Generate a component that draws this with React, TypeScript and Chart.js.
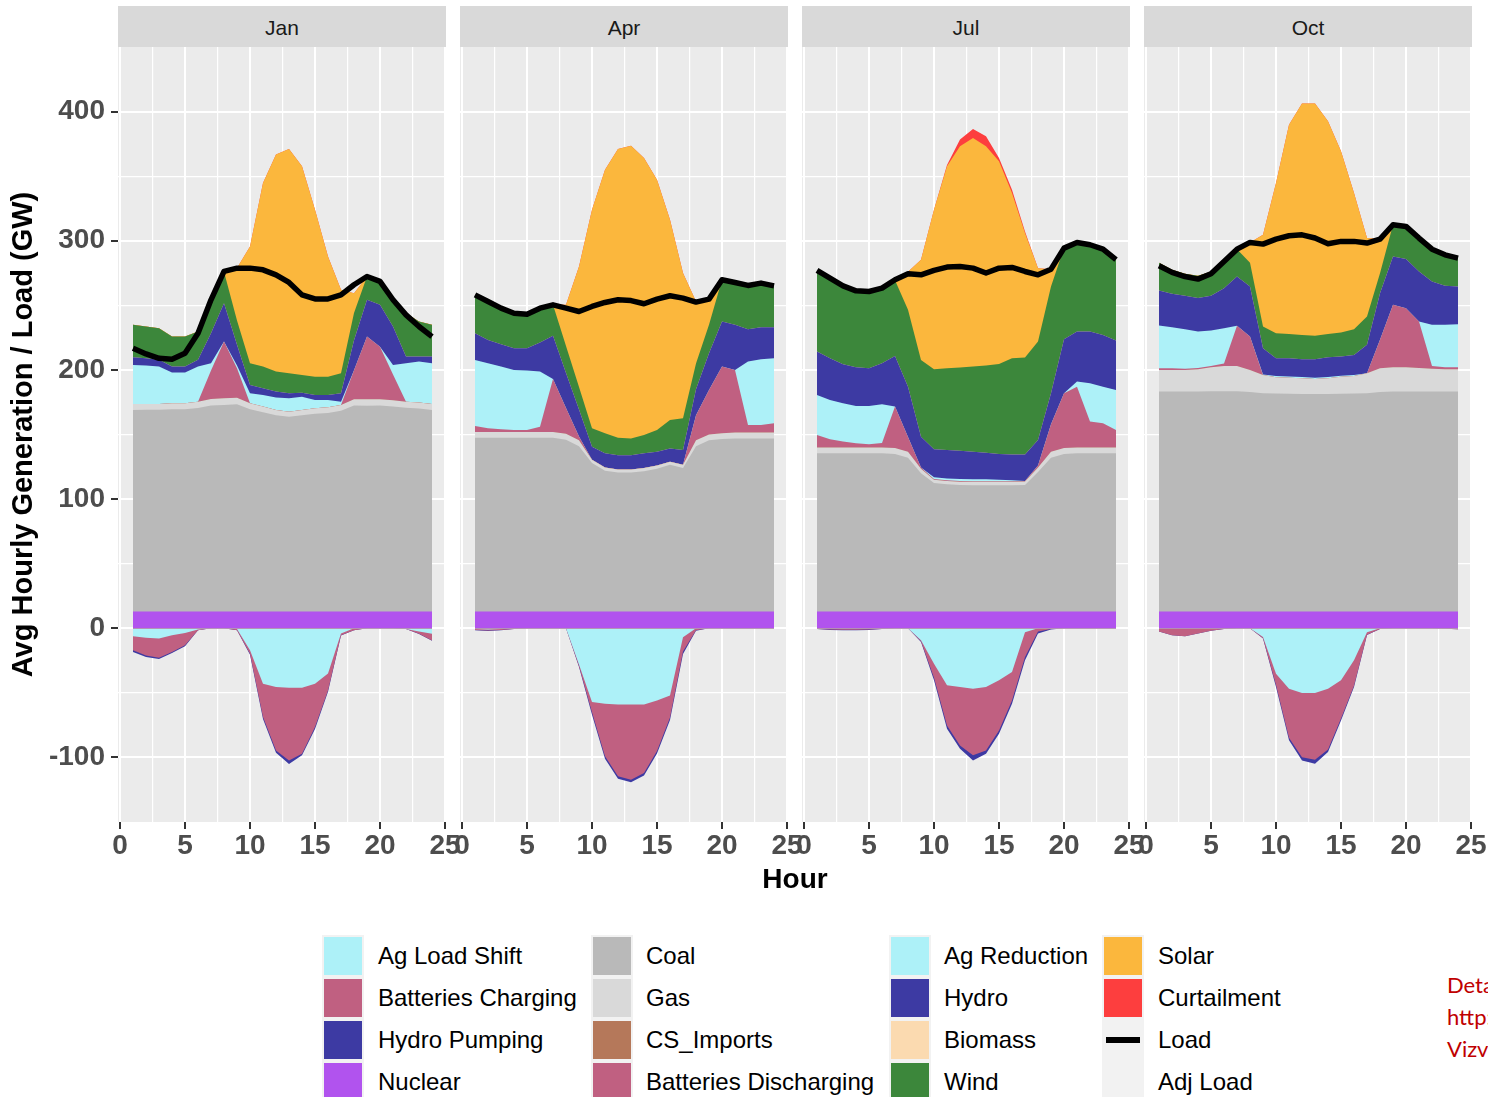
import React, { useEffect, useRef } from 'react';
import { Chart, registerables } from 'chart.js';

Chart.register(...registerables);

const FONT = '"Liberation Sans", Arial, Helvetica, sans-serif';

// ---------------------------------------------------------------------------
// Data: average hourly generation / load (GW) by month
// ---------------------------------------------------------------------------
const MONTHS = ['Jan', 'Apr', 'Jul', 'Oct'];
const HOURS = [1, 2, 3, 4, 5, 6, 7, 8, 9, 10, 11, 12, 13, 14, 15, 16, 17, 18, 19, 20, 21, 22, 23, 24];
const X_TICKS = [0, 2.5, 5, 7.5, 10, 12.5, 15, 17.5, 20, 22.5, 25];
const Y_TICKS = [-100, -50, 0, 50, 100, 150, 200, 250, 300, 350, 400];

const NUCLEAR: Record<string, number[]> = {
  Jan: [13, 13, 13, 13, 13, 13, 13, 13, 13, 13, 13, 13, 13, 13, 13, 13, 13, 13, 13, 13, 13, 13, 13, 13],
  Apr: [13, 13, 13, 13, 13, 13, 13, 13, 13, 13, 13, 13, 13, 13, 13, 13, 13, 13, 13, 13, 13, 13, 13, 13],
  Jul: [13, 13, 13, 13, 13, 13, 13, 13, 13, 13, 13, 13, 13, 13, 13, 13, 13, 13, 13, 13, 13, 13, 13, 13],
  Oct: [13, 13, 13, 13, 13, 13, 13, 13, 13, 13, 13, 13, 13, 13, 13, 13, 13, 13, 13, 13, 13, 13, 13, 13],
};

const COAL: Record<string, number[]> = {
  Jan: [156.0, 156.1, 156.1, 156.6, 156.5, 157.6, 159.5, 159.9, 160.5, 156.6, 154.3, 151.9, 150.7, 151.9, 153.0, 153.7, 155.3, 159.4, 159.3, 159.4, 158.7, 157.7, 157.2, 156.0],
  Apr: [134.5, 134.5, 134.5, 134.5, 134.5, 134.5, 134.5, 133.0, 128.0, 115.0, 109.0, 107.5, 107.5, 108.5, 110.5, 113.5, 111.0, 128.0, 132.5, 133.5, 134.0, 134.0, 134.0, 134.0],
  Jul: [122.4, 122.4, 122.4, 122.4, 122.4, 122.4, 122.0, 119.0, 107.0, 99.4, 98.4, 97.9, 97.8, 97.8, 97.8, 97.8, 98.0, 108.0, 119.0, 122.0, 122.4, 122.4, 122.4, 122.4],
  Oct: [170.2, 170.2, 170.2, 170.2, 170.5, 170.5, 170.5, 170.0, 169.0, 168.7, 168.5, 168.4, 168.4, 168.4, 168.5, 168.7, 169.0, 170.0, 170.2, 170.2, 170.2, 170.2, 170.2, 170.2],
};

const GAS: Record<string, number[]> = {
  Jan: [4.6, 4.5, 4.5, 4.6, 4.7, 4.8, 5.0, 5.1, 5.0, 4.6, 4.3, 4.1, 4.0, 4.1, 4.3, 4.4, 4.6, 4.9, 5.0, 4.9, 4.8, 4.7, 4.6, 4.6],
  Apr: [4.5, 4.5, 4.5, 4.5, 4.5, 4.5, 4.5, 4.5, 4.5, 2.5, 2.5, 2.5, 2.5, 2.5, 2.5, 2.5, 2.5, 4.5, 4.5, 4.5, 4.5, 4.5, 4.5, 4.5],
  Jul: [4.6, 4.6, 4.6, 4.6, 4.6, 4.6, 4.6, 4.6, 3.5, 2.6, 2.6, 2.6, 2.6, 2.6, 2.6, 2.6, 2.6, 3.5, 4.6, 4.6, 4.6, 4.6, 4.6, 4.6],
  Oct: [16.8, 16.8, 16.8, 17.3, 18.6, 19.6, 19.6, 17.0, 14.1, 12.6, 12.5, 12.1, 11.6, 12.1, 13.3, 13.6, 15.4, 18.3, 18.9, 18.9, 18.3, 17.8, 17.3, 17.3],
};

const CS_IMPORTS: Record<string, number[]> = {
  Jan: [0, 0, 0, 0, 0, 0, 0, 0, 0, 0, 0, 0, 0, 0, 0, 0, 0, 0, 0, 0, 0, 0, 0, 0],
  Apr: [0, 0, 0, 0, 0, 0, 0, 0, 0, 0, 0, 0, 0, 0, 0, 0, 0, 0, 0, 0, 0, 0, 0, 0],
  Jul: [0, 0, 0, 0, 0, 0, 0, 0, 0, 0, 0, 0, 0, 0, 0, 0, 0, 0, 0, 0, 0, 0, 0, 0],
  Oct: [0, 0, 0, 0, 0, 0, 0, 0, 0, 0, 0, 0, 0, 0, 0, 0, 0, 0, 0, 0, 0, 0, 0, 0],
};

const BATT_DISCHARGE: Record<string, number[]> = {
  Jan: [0, 0, 0, 0, 0, 0, 22.0, 44.0, 22.8, 0, 0, 0, 0, 0, 0, 0, 0, 22.4, 48.5, 40.7, 19.9, 0, 0, 0],
  Apr: [4.6, 2.8, 2.0, 1.5, 1.5, 4.0, 41.0, 20.0, 3.0, 0, 0, 0, 0, 0, 0, 0, 0, 19.5, 34.5, 51.6, 48.5, 5.9, 5.9, 7.2],
  Jul: [9.6, 6.3, 4.5, 3.2, 2.4, 3.5, 32.0, 11.4, 1.0, 0.5, 0.5, 0.5, 0.5, 0.5, 0.5, 0.5, 0.4, 1.5, 21.4, 42.4, 47.0, 20.0, 18.7, 13.5],
  Oct: [1.3, 1.3, 1.0, 1.0, 0.9, 1.9, 31.0, 25.8, 0, 0, 0, 0, 0, 0, 0, 0, 0, 22.0, 48.3, 45.7, 36.0, 2.1, 1.6, 1.6],
};

const AG_REDUCTION: Record<string, number[]> = {
  Jan: [30.3, 29.8, 29.0, 23.8, 23.8, 27.2, 5.7, 0, 2.2, 7.8, 9.0, 9.6, 10.3, 10.3, 6.4, 5.6, 2.5, 0, 0, 0, 7.5, 29.8, 31.7, 31.6],
  Apr: [51.1, 50.4, 48.6, 46.5, 46.0, 42.7, 0, 0, 0, 0, 0, 0, 0, 0, 0, 0, 0, 0, 0, 0, 0, 49.1, 50.9, 50.3],
  Jul: [31.0, 30.4, 29.7, 28.9, 29.7, 29.9, 0, 0, 0, 1.5, 1.5, 1.5, 1.5, 1.5, 1.1, 0.6, 0, 0, 0, 0, 4.0, 29.7, 28.3, 31.0],
  Oct: [33.1, 31.8, 30.5, 28.2, 27.5, 27.3, 0, 0, 0.4, 1.0, 1.0, 1.0, 1.0, 1.0, 0.7, 0.7, 0, 0, 0, 0, 0, 31.8, 32.8, 33.3],
};

const HYDRO: Record<string, number[]> = {
  Jan: [5.9, 5.6, 5.2, 4.6, 4.6, 5.2, 23.2, 29.7, 15.9, 6.4, 5.2, 4.6, 4.0, 3.1, 3.9, 3.9, 6.6, 23.3, 28.5, 32.4, 29.7, 5.1, 3.8, 5.1],
  Apr: [20.7, 18.0, 17.3, 16.8, 17.3, 22.5, 33.4, 27.2, 20.8, 10.1, 10.9, 11.0, 11.0, 11.4, 10.7, 10.2, 11.5, 20.0, 28.5, 34.9, 35.0, 25.0, 24.7, 24.0],
  Jul: [33.6, 32.3, 30.2, 30.0, 29.2, 31.8, 39.2, 39.0, 23.8, 21.5, 22.0, 22.0, 21.3, 20.5, 19.9, 20.1, 20.6, 19.7, 23.9, 41.8, 38.7, 40.0, 40.1, 38.2],
  Oct: [27.1, 25.8, 25.9, 25.9, 26.9, 31.0, 38.2, 38.8, 20.3, 13.7, 14.0, 13.8, 14.3, 15.3, 14.8, 15.6, 22.0, 36.1, 37.5, 38.0, 38.7, 33.6, 30.2, 29.2],
};

const BIOMASS: Record<string, number[]> = {
  Jan: [0, 0, 0, 0, 0, 0, 0, 0, 0, 0, 0, 0, 0, 0, 0, 0, 0, 0, 0, 0, 0, 0, 0, 0],
  Apr: [0, 0, 0, 0, 0, 0, 0, 0, 0, 0, 0, 0, 0, 0, 0, 0, 0, 0, 0, 0, 0, 0, 0, 0],
  Jul: [0, 0, 0, 0, 0, 0, 0, 0, 0, 0, 0, 0, 0, 0, 0, 0, 0, 0, 0, 0, 0, 0, 0, 0],
  Oct: [0, 0, 0, 0, 0, 0, 0, 0, 0, 0, 0, 0, 0, 0, 0, 0, 0, 0, 0, 0, 0, 0, 0, 0],
};

const WIND: Record<string, number[]> = {
  Jan: [25.2, 24.6, 24.5, 23.2, 23.2, 21.9, 25.9, 24.3, 18.8, 16.8, 16.8, 15.5, 15.4, 13.6, 14.2, 14.2, 15.4, 21.0, 18.0, 18.1, 20.7, 33.7, 27.2, 24.7],
  Apr: [29.7, 29.8, 27.9, 27.1, 26.3, 26.6, 24.0, 20.9, 17.5, 14.2, 15.5, 13.5, 13.0, 14.2, 16.8, 22.0, 24.5, 20.0, 22.0, 32.3, 32.7, 33.9, 34.2, 32.1],
  Jul: [61.8, 61.5, 60.4, 58.9, 59.2, 57.8, 58.7, 59.5, 59.4, 62.0, 63.3, 64.3, 65.9, 67.5, 69.7, 74.4, 75.0, 76.3, 82.7, 70.5, 69.0, 67.2, 66.4, 62.6],
  Oct: [21.5, 18.6, 17.1, 17.4, 18.6, 21.7, 21.2, 18.4, 16.8, 19.4, 18.9, 18.8, 18.1, 18.1, 18.7, 19.9, 21.9, 15.5, 24.5, 25.3, 25.9, 25.0, 24.0, 22.0],
};

const SOLAR: Record<string, number[]> = {
  Jan: [0, 0, 0, 0, 0, 0, 0, 0, 40.8, 90.4, 142.1, 168.0, 173.6, 161.6, 129.2, 93.1, 64.6, 15.4, 0, 0, 0, 0, 0, 0],
  Apr: [0, 0, 0, 0, 0, 0, 0, 31.8, 93.3, 169.2, 204.1, 223.5, 226.6, 214.4, 193.8, 155.1, 112.5, 48.0, 19.8, 0, 0, 0, 0, 0],
  Jul: [0, 0, 0, 0, 0, 0, 0, 29.5, 77.6, 123.5, 156.3, 171.3, 177.0, 169.7, 156.9, 128.0, 96.4, 56.8, 13.4, 0, 0, 0, 0, 0],
  Oct: [0, 0, 0, 0, 0, 0, 0, 15.7, 71.0, 116.3, 162.0, 179.1, 179.8, 164.6, 140.2, 105.5, 60.8, 26.4, 0, 0, 0, 0, 0, 0],
};

const CURTAILMENT: Record<string, number[]> = {
  Jan: [0, 0, 0, 0, 0, 0, 0, 0, 0, 0, 0, 0, 0, 0, 0, 0, 0, 0, 0, 0, 0, 0, 0, 0],
  Apr: [0, 0, 0, 0, 0, 0, 0, 0, 0, 0, 0, 0, 0, 0, 0, 0, 0, 0, 0, 0, 0, 0, 0, 0],
  Jul: [0, 0, 0, 0, 0, 0, 0, 0, 0, 0, 1.0, 5.2, 7.0, 7.8, 2.5, 2.5, 1.2, 0, 0, 0, 0, 0, 0, 0],
  Oct: [0, 0, 0, 0, 0, 0, 0, 0, 0, 0, 0, 0, 0, 0, 0, 0, 0, 0, 0, 0, 0, 0, 0, 0],
};

const AG_LOAD_SHIFT: Record<string, number[]> = {
  Jan: [-6.2, -7.3, -8.0, -5.4, -3.6, -1.0, 0, 0, -0.5, -17.0, -43.0, -45.5, -46.0, -46.0, -43.0, -35.0, -4.0, 0, 0, 0, 0, -0.5, -2.5, -4.2],
  Apr: [-0.5, -1.0, -0.5, 0, 0, 0, 0, 0, -28.0, -57.0, -58.4, -59.0, -59.0, -59.0, -56.0, -52.0, -7.0, 0, 0, 0, 0, 0, 0, 0],
  Jul: [0, 0, 0, 0, 0, 0, 0, 0, -9.3, -27.4, -44.2, -45.5, -46.8, -45.5, -40.3, -33.9, -3.0, 0, 0, 0, 0, 0, 0, 0],
  Oct: [0, 0, 0, 0, 0, 0, 0, 0, -6.7, -35.2, -46.8, -50.1, -50.1, -46.8, -40.3, -24.8, -3.0, 0, 0, 0, 0, 0, 0, 0],
};

const BATT_CHARGE: Record<string, number[]> = {
  Jan: [-10.9, -13.7, -14.8, -13.0, -9.6, -0.6, 0, 0, -1.0, -2.7, -25.8, -49.1, -56.4, -51.2, -33.5, -13.1, -1.4, -1.5, 0, 0, 0, 0, -1.7, -5.2],
  Apr: [-0.8, -0.8, -0.8, -0.5, 0, 0, 0, 0, -1.5, -8.0, -40.6, -55.6, -58.2, -53.0, -39.0, -17.0, -11.0, -1.5, 0, 0, 0, 0, 0, 0],
  Jul: [-0.5, -1.0, -1.2, -1.2, -1.0, -0.5, 0, 0, -0.8, -10.9, -31.1, -45.3, -51.5, -49.2, -38.9, -22.0, -19.3, -2.6, -0.5, 0, 0, 0, 0, 0],
  Oct: [-2.6, -5.4, -6.2, -4.1, -2.0, -0.5, 0, 0, -1.0, -8.8, -38.0, -49.7, -51.8, -47.1, -29.6, -19.7, -2.0, -0.5, 0, 0, 0, 0, -0.3, -0.8],
};

const HYDRO_PUMPING: Record<string, number[]> = {
  Jan: [-1.3, -1.3, -1.0, -0.8, -0.8, 0, 0, 0, 0, -0.8, -1.5, -1.8, -2.6, -1.2, -1.5, -1.0, -0.3, 0, 0, 0, 0, 0, -0.3, -0.3],
  Apr: [-0.3, -0.3, -0.3, 0, 0, 0, 0, 0, -0.5, -2.0, -2.0, -2.0, -2.0, -2.0, -2.0, -2.0, -2.0, -0.5, 0, 0, 0, 0, 0, 0],
  Jul: [0, -0.3, -0.3, -0.3, -0.3, 0, 0, 0, -0.5, -2.0, -2.5, -2.5, -4.0, -2.5, -2.5, -2.5, -2.5, -1.5, -0.5, 0, 0, 0, 0, 0],
  Oct: [0, 0, 0, 0, 0, 0, 0, 0, -0.3, -1.5, -2.0, -2.5, -3.0, -2.0, -1.5, -1.0, -0.3, 0, 0, 0, 0, 0, 0, 0],
};

const LOAD: Record<string, number[]> = {
  Jan: [216.8, 212.4, 209.0, 208.3, 212.9, 228.4, 254.3, 276.3, 278.8, 278.8, 277.5, 273.6, 267.7, 258.1, 255.0, 255.0, 258.1, 265.9, 272.3, 268.5, 254.3, 242.6, 233.6, 225.8],
  Apr: [258.1, 253.0, 247.8, 243.9, 243.1, 247.8, 250.4, 247.8, 245.2, 249.1, 252.2, 254.3, 253.7, 251.2, 254.8, 257.4, 255.6, 252.5, 254.8, 269.8, 267.7, 265.4, 267.2, 265.1],
  Jul: [277.0, 271.0, 265.1, 261.2, 260.7, 263.3, 269.8, 274.4, 273.6, 277.0, 279.6, 280.1, 278.8, 275.0, 278.8, 279.3, 276.2, 273.6, 278.0, 294.3, 298.7, 296.9, 293.5, 285.3],
  Oct: [280.6, 275.5, 272.3, 270.3, 274.4, 284.0, 293.5, 298.7, 297.4, 301.3, 303.9, 304.6, 302.1, 297.7, 299.5, 299.5, 298.2, 301.3, 312.4, 311.1, 302.1, 293.5, 289.1, 286.6],
};

// ---------------------------------------------------------------------------
// Series styling (stacking order, bottom first)
// ---------------------------------------------------------------------------
type Series = { name: string; color: string; values: Record<string, number[]> };

const COLORS: Record<string, string> = {
  'Ag Load Shift': '#ADF1F8',
  'Batteries Charging': '#C06081',
  'Hydro Pumping': '#3D3AA3',
  Nuclear: '#B153EE',
  Coal: '#B9B9B9',
  Gas: '#D9D9D9',
  CS_Imports: '#B5785A',
  'Batteries Discharging': '#C06081',
  'Ag Reduction': '#ADF1F8',
  Hydro: '#3D3AA3',
  Biomass: '#FBDAB0',
  Wind: '#3C873B',
  Solar: '#FBB73D',
  Curtailment: '#FD3E3E',
  Load: '#000000',
  'Adj Load': '#F2F2F2',
};

const GENERATION: Series[] = [
  { name: 'Nuclear', color: COLORS.Nuclear, values: NUCLEAR },
  { name: 'Coal', color: COLORS.Coal, values: COAL },
  { name: 'Gas', color: COLORS.Gas, values: GAS },
  { name: 'CS_Imports', color: COLORS.CS_Imports, values: CS_IMPORTS },
  { name: 'Batteries Discharging', color: COLORS['Batteries Discharging'], values: BATT_DISCHARGE },
  { name: 'Ag Reduction', color: COLORS['Ag Reduction'], values: AG_REDUCTION },
  { name: 'Hydro', color: COLORS.Hydro, values: HYDRO },
  { name: 'Biomass', color: COLORS.Biomass, values: BIOMASS },
  { name: 'Wind', color: COLORS.Wind, values: WIND },
  { name: 'Solar', color: COLORS.Solar, values: SOLAR },
  { name: 'Curtailment', color: COLORS.Curtailment, values: CURTAILMENT },
];

const CONSUMPTION: Series[] = [
  { name: 'Ag Load Shift', color: COLORS['Ag Load Shift'], values: AG_LOAD_SHIFT },
  { name: 'Batteries Charging', color: COLORS['Batteries Charging'], values: BATT_CHARGE },
  { name: 'Hydro Pumping', color: COLORS['Hydro Pumping'], values: HYDRO_PUMPING },
];

const LEGEND_COLUMNS: string[][] = [
  ['Ag Load Shift', 'Batteries Charging', 'Hydro Pumping', 'Nuclear'],
  ['Coal', 'Gas', 'CS_Imports', 'Batteries Discharging'],
  ['Ag Reduction', 'Hydro', 'Biomass', 'Wind'],
  ['Solar', 'Curtailment', 'Load', 'Adj Load'],
];

// ---------------------------------------------------------------------------
// Layout
// ---------------------------------------------------------------------------
const PANEL_LEFT = [118, 460, 802, 1144];
const PANEL_W = 328;
const PANEL_TOP = 47;
const PANEL_BOTTOM = 822;
const CANVAS_H = 880;
const SIDE_PAD = 22;
const Y_AXIS_W = 118;
const HOUR_PX = 13;
const X_MIN = -2 / HOUR_PX;
const X_MAX = X_MIN + PANEL_W / HOUR_PX;

const panelBackground = {
  id: 'panelBackground',
  beforeDraw(chart: any) {
    const { ctx, chartArea } = chart;
    ctx.save();
    ctx.fillStyle = '#EBEBEB';
    ctx.fillRect(chartArea.left, chartArea.top, chartArea.right - chartArea.left, chartArea.bottom - chartArea.top);
    ctx.restore();
  },
};

function buildConfig(month: string, first: boolean): any {
  const points = (arr: number[]) => HOURS.map((h, i) => ({ x: h, y: arr[i] }));
  const area = (s: Series, stack: string) => ({
    type: 'line',
    label: s.name,
    data: points(s.values[month]),
    stack,
    backgroundColor: s.color,
    borderColor: 'rgba(0,0,0,0)',
    borderWidth: 0,
    pointRadius: 0,
    pointHoverRadius: 0,
    fill: 'origin',
    tension: 0,
  });

  const datasets = [
    {
      type: 'line',
      label: 'Load',
      data: points(LOAD[month]),
      stack: 'load',
      borderColor: COLORS.Load,
      backgroundColor: COLORS.Load,
      borderWidth: 5.5,
      borderJoinStyle: 'round',
      pointRadius: 0,
      pointHoverRadius: 0,
      fill: false,
      tension: 0,
    },
    ...GENERATION.map((s) => area(s, 'gen')),
    ...CONSUMPTION.map((s) => area(s, 'use')),
  ];

  const tickFont = { family: FONT, size: 28, weight: 'bold' };

  return {
    type: 'line',
    data: { datasets },
    plugins: [panelBackground],
    options: {
      animation: false,
      responsive: false,
      maintainAspectRatio: false,
      devicePixelRatio: 1,
      events: [],
      layout: { padding: { top: PANEL_TOP, bottom: 0, left: first ? 0 : SIDE_PAD, right: SIDE_PAD } },
      plugins: { legend: { display: false }, tooltip: { enabled: false }, title: { display: false } },
      scales: {
        x: {
          type: 'linear',
          min: X_MIN,
          max: X_MAX,
          afterBuildTicks: (s: any) => {
            s.ticks = X_TICKS.map((v) => ({ value: v }));
          },
          afterFit: (s: any) => {
            s.height = CANVAS_H - PANEL_BOTTOM;
          },
          ticks: {
            autoSkip: false,
            maxRotation: 0,
            minRotation: 0,
            padding: 0,
            color: '#4D4D4D',
            font: tickFont,
            callback: (v: number) => (v % 5 === 0 ? String(v) : ''),
          },
          grid: {
            color: '#FFFFFF',
            lineWidth: (c: any) => (c.tick && c.tick.value % 5 === 0 ? 2 : 1.2),
            drawTicks: true,
            tickLength: 7,
            tickWidth: 2,
            tickColor: (c: any) => (c.tick && c.tick.value % 5 === 0 ? '#333333' : 'rgba(0,0,0,0)'),
          },
          border: { display: false },
        },
        y: {
          type: 'linear',
          min: -150,
          max: 450,
          stacked: true,
          afterBuildTicks: (s: any) => {
            s.ticks = Y_TICKS.map((v) => ({ value: v }));
          },
          afterFit: (s: any) => {
            s.width = first ? Y_AXIS_W : 0;
          },
          ticks: {
            display: first,
            autoSkip: false,
            padding: 6,
            color: '#4D4D4D',
            font: tickFont,
            callback: (v: number) => (v % 100 === 0 ? String(v) : ''),
          },
          grid: {
            color: '#FFFFFF',
            lineWidth: (c: any) => (c.tick && c.tick.value % 100 === 0 ? 2 : 1.2),
            drawTicks: first,
            tickLength: 7,
            tickWidth: 2,
            tickColor: (c: any) => (c.tick && c.tick.value % 100 === 0 ? '#333333' : 'rgba(0,0,0,0)'),
          },
          border: { display: false },
          title: {
            display: first,
            text: 'Avg Hourly Generation / Load (GW)',
            color: '#000000',
            font: { family: FONT, size: 29, weight: 'bold' },
            padding: { top: 7, bottom: 0 },
          },
        },
      },
    },
  };
}

function Panel({ month, index }: { month: string; index: number }) {
  const ref = useRef<HTMLCanvasElement>(null);
  const first = index === 0;
  const left = first ? 0 : PANEL_LEFT[index] - SIDE_PAD;
  const width = PANEL_LEFT[index] + PANEL_W + SIDE_PAD - left;

  useEffect(() => {
    if (!ref.current) return;
    const chart = new Chart(ref.current, buildConfig(month, first));
    return () => chart.destroy();
  }, [month, first]);

  return (
    <canvas
      ref={ref}
      width={width}
      height={CANVAS_H}
      style={{ position: 'absolute', left, top: 0, width, height: CANVAS_H }}
    />
  );
}

function LegendKey({ name }: { name: string }) {
  if (name === 'Load') {
    return (
      <div style={{ position: 'absolute', left: 3, top: 17, width: 34, height: 6, background: COLORS.Load }} />
    );
  }
  if (name === 'Adj Load') return null;
  return (
    <div style={{ position: 'absolute', left: 1, top: 1, width: 38, height: 38, background: COLORS[name] }} />
  );
}

const LEGEND_KEY_X = [323, 592, 890, 1103];
const LEGEND_TEXT_X = [378, 646, 944, 1158];
const LEGEND_ROW_Y = [936, 978, 1020, 1062];

export default function App() {
  useEffect(() => {
    document.body.style.margin = '0';
  }, []);

  return (
    <div
      style={{
        position: 'absolute',
        left: 0,
        top: 0,
        width: 1488,
        height: 1097,
        overflow: 'hidden',
        background: '#FFFFFF',
        fontFamily: FONT,
      }}
    >
      {MONTHS.map((m, i) => (
        <div
          key={'strip-' + m}
          style={{
            position: 'absolute',
            left: PANEL_LEFT[i],
            top: 6,
            width: PANEL_W,
            height: 41,
            background: '#D9D9D9',
            color: '#1A1A1A',
            fontSize: 21,
            lineHeight: '44px',
            textAlign: 'center',
          }}
        >
          {m}
        </div>
      ))}

      {MONTHS.map((m, i) => (
        <Panel key={m} month={m} index={i} />
      ))}

      <div
        style={{
          position: 'absolute',
          left: PANEL_LEFT[0],
          width: PANEL_LEFT[3] + PANEL_W - PANEL_LEFT[0],
          top: 862,
          lineHeight: '34px',
          textAlign: 'center',
          fontWeight: 'bold',
          fontSize: 28,
          color: '#000000',
        }}
      >
        Hour
      </div>

      {LEGEND_COLUMNS.map((col, ci) =>
        col.map((name, ri) => (
          <React.Fragment key={name}>
            <div
              style={{
                position: 'absolute',
                left: LEGEND_KEY_X[ci],
                top: LEGEND_ROW_Y[ri],
                width: 40,
                height: 40,
                background: '#F2F2F2',
                boxShadow: '0 0 0 1px #F2F2F2',
              }}
            >
              <LegendKey name={name} />
            </div>
            <div
              style={{
                position: 'absolute',
                left: LEGEND_TEXT_X[ci],
                top: LEGEND_ROW_Y[ri],
                height: 40,
                lineHeight: '40px',
                fontSize: 24,
                color: '#000000',
                whiteSpace: 'nowrap',
              }}
            >
              {name}
            </div>
          </React.Fragment>
        ))
      )}

      <div
        style={{
          position: 'absolute',
          left: 1447,
          top: 969,
          fontFamily: 'Lato, "Open Sans", sans-serif',
          fontSize: 22,
          lineHeight: '32px',
          color: '#C00000',
          whiteSpace: 'nowrap',
        }}
      >
        <div>Details</div>
        <div>http://</div>
        <div>Vizview</div>
      </div>
    </div>
  );
}
